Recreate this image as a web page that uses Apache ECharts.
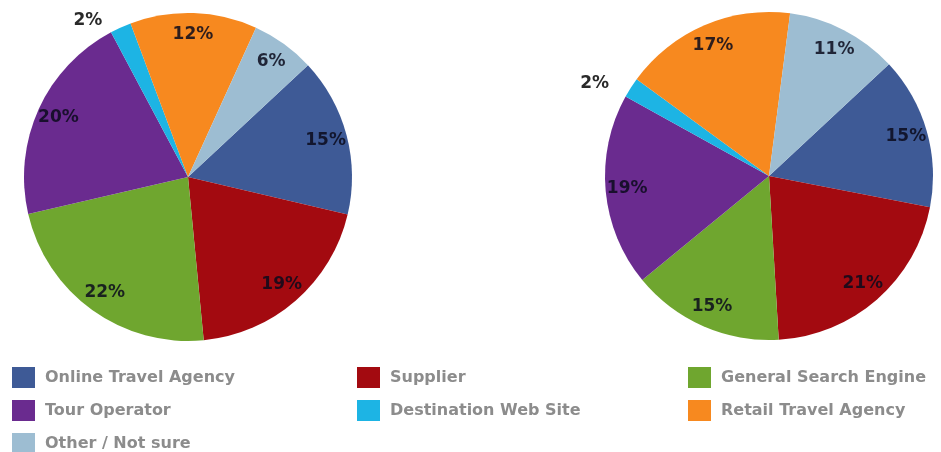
<!DOCTYPE html>
<html>
<head>
<meta charset="utf-8">
<script src="https://cdn.jsdelivr.net/npm/echarts@6/dist/echarts.min.js"></script>
<style>
  html, body { margin: 0; padding: 0; background: #fff; }
  #chart { width: 941px; height: 452px; }
</style>
</head>
<body>
<div id="chart"></div>
<script>
// categories in clockwise slice order
const categories = ['Online Travel Agency', 'Supplier', 'General Search Engine', 'Tour Operator', 'Destination Web Site', 'Retail Travel Agency', 'Other / Not sure'];
const leftValues = [15, 19, 22, 20, 2, 12, 6];
const rightValues = [15, 21, 15, 19, 2, 17, 11];
const colors = ['#3e5a96', '#a30a10', '#6fa62f', '#6a2b8f', '#1db4e4', '#f7891f', '#9dbdd2'];

// legend columns
const legendCols = [
  ['Online Travel Agency', 'Tour Operator', 'Other / Not sure'],
  ['Supplier', 'Destination Web Site'],
  ['General Search Engine', 'Retail Travel Agency']
];
const legendLeft = [12, 357, 688];

const R = 164;
const labelFont = { fontFamily: 'DejaVu Sans', fontWeight: 'bold', fontSize: 17, color: 'rgba(10,10,28,0.85)' };

function toData(values) {
  return categories.map((name, i) => ({ name: name, value: values[i] }));
}

// main slices, no labels
function slicePie(values, center) {
  return {
    type: 'pie',
    center: center,
    radius: [0, R],
    startAngle: 43,
    clockwise: true,
    silent: true,
    label: { show: false },
    labelLine: { show: false },
    data: toData(values)
  };
}

// transparent ring only used to put the labels near the rim
function labelPie(values, center) {
  return {
    type: 'pie',
    center: center,
    radius: [R * 0.7, R],
    startAngle: 43,
    clockwise: true,
    silent: true,
    itemStyle: { color: 'rgba(0,0,0,0)' },
    label: Object.assign({ show: true, position: 'inside', formatter: '{c}%' }, labelFont),
    labelLine: { show: false },
    data: toData(values).map(d => {
      if (d.value < 5) {
        d.label = { position: 'outside', color: '#2a2a2a' };
        d.labelLine = { show: false, length: 8, length2: 10 };
      }
      return d;
    })
  };
}

const myChart = echarts.init(document.getElementById('chart'));

myChart.setOption({
  animation: false,
  color: colors,
  legend: legendCols.map((col, i) => ({
    orient: 'vertical',
    left: legendLeft[i],
    top: 367,
    height: 120,
    padding: 0,
    itemGap: 12,
    itemWidth: 23,
    itemHeight: 21,
    icon: 'rect',
    selectedMode: false,
    textStyle: { fontFamily: 'DejaVu Sans', fontWeight: 'bold', fontSize: 16, color: '#8c8c8c', padding: [0, 0, 0, 5] },
    data: col
  })),
  series: [
    slicePie(leftValues, [188, 177]),
    slicePie(rightValues, [769, 176]),
    labelPie(leftValues, [188, 177]),
    labelPie(rightValues, [769, 176])
  ]
});
</script>
</body>
</html>
